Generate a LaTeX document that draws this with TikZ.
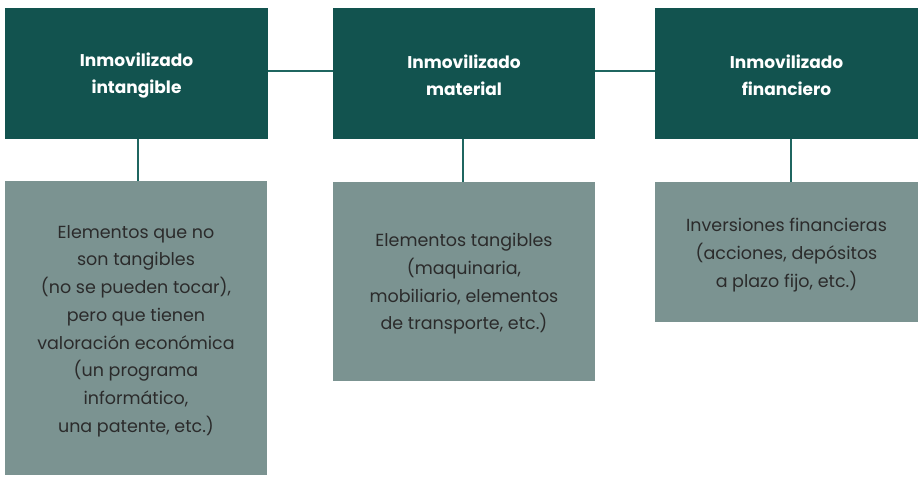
\documentclass[tikz,border=0pt]{standalone}
\usepackage{fontspec}
\setmainfont{Poppins}
\definecolor{topc}{HTML}{12534F}
\definecolor{botc}{HTML}{7B9391}
\definecolor{linec}{HTML}{1F6660}
\definecolor{txtc}{HTML}{2B2B2B}
\begin{document}
\begin{tikzpicture}[x=1pt,y=-1pt,
  topbox/.style={fill=topc,draw=none,text=white,font=\bfseries\fontsize{17}{27}\selectfont,align=center},
  botbox/.style={fill=botc,draw=none,text=txtc,font=\fontsize{17.5}{27.7}\selectfont,align=center},
  conn/.style={draw=linec,line width=1.6pt}]
\useasboundingbox (0,0) rectangle (921,484);
\fill[white] (0,0) rectangle (921,484);
% top boxes
\path[topbox] (5,8) rectangle (268,139);
\node[topbox,fill=none] (t1) at (136.5,75.5) {Inmovilizado\\intangible};
\path[topbox] (333,8) rectangle (595,139);
\node[topbox,fill=none] (t2) at (464,75.5) {Inmovilizado\\material};
\path[topbox] (655,8) rectangle (918,139);
\node[topbox,fill=none] (t3) at (786.5,75.5) {Inmovilizado\\financiero};
% bottom boxes
\path[botbox] (5,181) rectangle (267,475);
\node[botbox,fill=none] (b1) at (136,331) {Elementos que no\\son tangibles\\(no se pueden tocar),\\pero que tienen\\valoración económica\\(un programa\\informático,\\una patente, etc.)};
\path[botbox] (333,182) rectangle (595,381);
\node[botbox,fill=none] (b2) at (464,284) {Elementos tangibles\\(maquinaria,\\mobiliario, elementos\\de transporte, etc.)};
\path[botbox] (655,182) rectangle (918,322);
\node[botbox,fill=none] (b3) at (786.5,255) {Inversiones financieras\\(acciones, depósitos\\a plazo fijo, etc.)};
% connectors
\coordinate (h1a) at (268,71); \coordinate (h1b) at (333,71);
\coordinate (h2a) at (595,71); \coordinate (h2b) at (655,71);
\draw[conn] (h1a) -- (h1b);
\draw[conn] (h2a) -- (h2b);
\coordinate (v1a) at (138,139); \coordinate (v1b) at (138,181);
\coordinate (v2a) at (463,139); \coordinate (v2b) at (463,182);
\coordinate (v3a) at (791,139); \coordinate (v3b) at (791,182);
\draw[conn] (v1a) -- (v1b);
\draw[conn] (v2a) -- (v2b);
\draw[conn] (v3a) -- (v3b);
\end{tikzpicture}
\end{document}
